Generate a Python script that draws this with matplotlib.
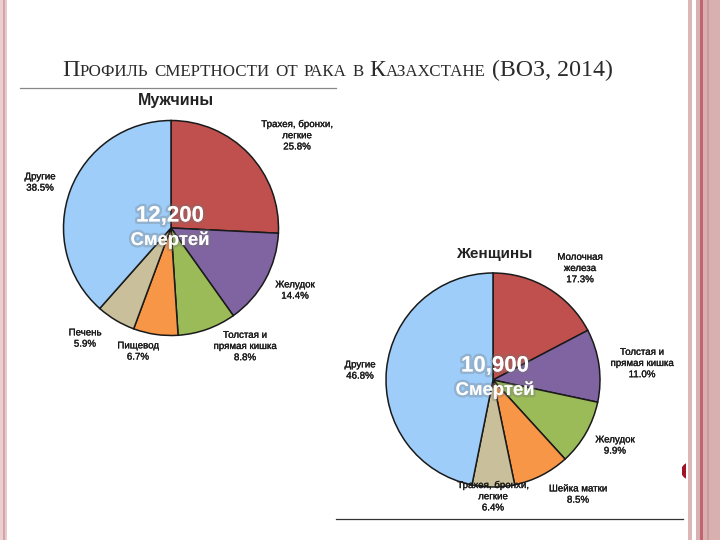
import matplotlib
matplotlib.use('Agg')
import matplotlib.pyplot as plt
import matplotlib.patheffects as pe
from matplotlib.patches import Rectangle, Ellipse

W, H = 720, 540

title = 'Профиль смертности от рака в Казахстане (ВОЗ, 2014)'

colors = ['#c0504d', '#8064a2', '#9bbb59', '#f79646', '#c9bf9b', '#9dcdf8']

# men
men_labels = ['Трахея, бронхи,\nлегкие', 'Желудок', 'Толстая и\nпрямая кишка',
              'Пищевод', 'Печень', 'Другие']
men_pct = [25.8, 14.4, 8.8, 6.7, 5.9, 38.5]
men_total = '12,200'

# women
women_labels = ['Молочная\nжелеза', 'Толстая и\nпрямая кишка', 'Желудок',
                'Шейка матки', 'Трахея, бронхи,\nлегкие', 'Другие']
women_pct = [17.3, 11.0, 9.9, 8.5, 6.4, 46.8]
women_total = '10,900'

# label anchor points (pixels from top-left)
men_lab_xy = [(297, 135), (295, 290), (245, 346), (138, 351), (85, 338), (40, 182)]
women_lab_xy = [(580, 268), (642, 363), (615, 445), (578, 494), (493, 496), (360, 370)]

fig = plt.figure(figsize=(W / 100, H / 100), dpi=100)
ax = fig.add_axes([0, 0, 1, 1])

def Y(y):
    return H - y

def draw_pie(vals, cx, cy, r):
    ax.pie(vals, colors=colors, startangle=90, counterclock=False,
           center=(cx, Y(cy)), radius=r,
           wedgeprops=dict(edgecolor='#1a1a1a', linewidth=1.1))

draw_pie(men_pct, 171, 228, 107.5)
draw_pie(women_pct, 493, 380, 107)

ax.set_xlim(0, W)
ax.set_ylim(0, H)
ax.set_aspect('equal')
ax.axis('off')

bolden = [pe.Stroke(linewidth=0.2, foreground='#1a1a1a'), pe.Normal()]
lab_font = dict(family='Liberation Sans', fontsize=7, color='#1a1a1a',
                ha='center', va='center', linespacing=1.15, path_effects=bolden)
for lab, v, (x, y) in zip(men_labels, men_pct, men_lab_xy):
    ax.text(x, Y(y), f'{lab}\n{v:.1f}%', **lab_font)
for lab, v, (x, y) in zip(women_labels, women_pct, women_lab_xy):
    ax.text(x, Y(y), f'{lab}\n{v:.1f}%', **lab_font)

ax.text(176, Y(101), 'Мужчины', family='Liberation Sans', fontsize=11.5,
        fontweight='bold', color='#222222', ha='center', va='center')
ax.text(494, Y(254), 'Женщины', family='Liberation Sans', fontsize=11,
        fontweight='bold', color='#222222', ha='center', va='center')

glow = [pe.Stroke(linewidth=3.5, foreground=(0.45, 0.45, 0.45, 0.3)), pe.Normal()]
for tot, cx, y1, y2 in [(men_total, 170, 216, 240), (women_total, 495, 366, 390)]:
    ax.text(cx, Y(y1), tot, family='Liberation Sans', fontsize=16, fontweight='bold',
            color='white', ha='center', va='center', path_effects=glow)
    ax.text(cx, Y(y2), 'Смертей', family='Liberation Sans', fontsize=13.3,
            fontweight='bold', color='white', ha='center', va='center', path_effects=glow)

# title in small caps
r = fig.canvas.get_renderer()
parts = []
for ch in title:
    big = not ch.islower()
    if parts and parts[-1][1] == big:
        parts[-1][0] += ch
    else:
        parts.append([ch, big])
x = 62
for s, big in parts:
    t = ax.text(x, Y(76), s.upper(), family='Liberation Serif',
                fontsize=17.2 if big else 12.2, color='#2b2b2b',
                ha='left', va='baseline')
    x += t.get_window_extent(renderer=r).width

# rules
ax.plot([20, 336], [Y(88), Y(88)], color='#888888', lw=0.9)
ax.plot([336, 683], [Y(519), Y(519)], color='#333333', lw=0.9)

# slide border decoration
ax.add_patch(Rectangle((0, 0), 2.7, H, color='#ead0d0', lw=0))
ax.add_patch(Rectangle((2.7, 0), 2.0, H, color='#d4a4a8', lw=0))
ax.add_patch(Rectangle((4.7, 0), 2.0, H, color='#e8cccc', lw=0))
ax.add_patch(Rectangle((688.3, 0), 4.0, H, color='#ddb6b6', lw=0))
ax.add_patch(Rectangle((696, 0), 24, H, color='#d9b0b0', lw=0))
ax.add_patch(Rectangle((700, 0), 3, H, color='#c26470', lw=0))
ax.add_patch(Rectangle((706.7, 0), 2.3, H, color='#cc9a9e', lw=0))
e = Ellipse((693, Y(471)), 24, 19, color='#a01525', lw=0)
ax.add_patch(e)
e.set_clip_path(Rectangle((681.5, 0), 4.3, H, transform=ax.transData))

fig.savefig('out.png', dpi=100, facecolor='white')
